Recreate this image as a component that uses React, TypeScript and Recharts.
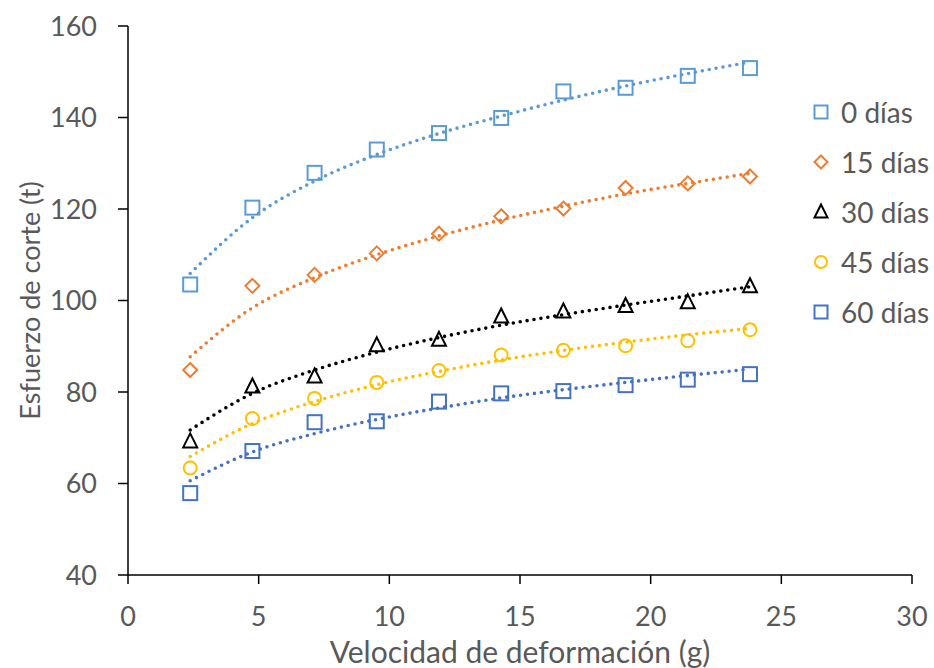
import { ScatterChart, Scatter, XAxis, YAxis } from 'recharts';

const velocidad = [2.38, 4.76, 7.14, 9.52, 11.9, 14.28, 16.66, 19.04, 21.42, 23.8];

const dias0 = [103.5, 120.3, 127.9, 133.0, 136.6, 139.9, 145.7, 146.5, 149.1, 150.8];
const dias15 = [84.8, 103.2, 105.6, 110.3, 114.6, 118.4, 120.1, 124.6, 125.6, 127.1];
const dias30 = [69.2, 81.2, 83.4, 90.2, 91.4, 96.5, 97.6, 98.8, 99.6, 103.1];
const dias45 = [63.4, 74.2, 78.6, 82.1, 84.7, 88.1, 89.1, 90.1, 91.2, 93.6];
const dias60 = [57.9, 67.1, 73.4, 73.6, 77.9, 79.7, 80.2, 81.5, 82.7, 83.9];

const tend0 = [105.9, 118.1, 126.1, 131.9, 136.5, 140.3, 143.8, 146.9, 149.6, 152.1];
const tend15 = [87.7, 98.4, 105.0, 110.0, 114.1, 117.6, 120.6, 123.3, 125.6, 127.8];
const tend30 = [71.7, 79.7, 84.8, 88.7, 91.9, 94.6, 96.9, 99.0, 101.0, 103.0];
const tend45 = [65.9, 73.1, 77.9, 81.6, 84.5, 87.0, 89.1, 90.9, 92.5, 93.9];
const tend60 = [60.6, 66.9, 70.9, 74.0, 76.5, 78.7, 80.5, 82.1, 83.6, 85.0];

const xTicks = [0, 5, 10, 15, 20, 25, 30];
const yTicks = [40, 60, 80, 100, 120, 140, 160];

const FONT = 'Lato, "Open Sans", sans-serif';
const GREY = '#595959';

type Kind = 'square' | 'diamond' | 'triangle' | 'circle';

const series: { name: string; values: number[]; trend: number[]; color: string; kind: Kind }[] = [
  { name: '0 días', values: dias0, trend: tend0, color: '#5B9BD5', kind: 'square' },
  { name: '15 días', values: dias15, trend: tend15, color: '#ED7D31', kind: 'diamond' },
  { name: '30 días', values: dias30, trend: tend30, color: '#000000', kind: 'triangle' },
  { name: '45 días', values: dias45, trend: tend45, color: '#FFC000', kind: 'circle' },
  { name: '60 días', values: dias60, trend: tend60, color: '#4472C4', kind: 'square' },
];

const toPoints = (ys: number[]) => velocidad.map((x, i) => ({ x, y: ys[i] }));

function Marker({ cx, cy, kind, color, s = 7 }: { cx: number; cy: number; kind: Kind; color: string; s?: number }) {
  const common = { fill: 'none', stroke: color, strokeWidth: 2 };
  if (kind === 'square') return <rect x={cx - s} y={cy - s} width={2 * s} height={2 * s} {...common} />;
  if (kind === 'diamond')
    return <polygon points={`${cx},${cy - s} ${cx + s},${cy} ${cx},${cy + s} ${cx - s},${cy}`} {...common} />;
  if (kind === 'triangle')
    return <polygon points={`${cx},${cy - s - 1} ${cx + s},${cy + s - 1} ${cx - s},${cy + s - 1}`} {...common} />;
  return <circle cx={cx} cy={cy} r={s - 0.5} {...common} />;
}

export default function App() {
  return (
    <div style={{ position: 'absolute', left: 0, top: 0, width: 934, height: 668, background: '#fff', fontFamily: FONT }}>
      <ScatterChart width={934} height={668} margin={{ top: 26, right: 22, left: 0, bottom: 0 }}>
        <XAxis
          type="number"
          dataKey="x"
          domain={[0, 30]}
          ticks={xTicks}
          height={93}
          tickSize={9}
          tickMargin={23}
          axisLine={{ stroke: '#000', strokeWidth: 1.5 }}
          tickLine={{ stroke: '#000', strokeWidth: 1.5 }}
          tick={{ fill: GREY, fontSize: 27, fontFamily: FONT }}
          label={{
            value: 'Velocidad de deformación (g)',
            position: 'insideBottom',
            offset: 5,
            fill: GREY,
            fontSize: 30,
            fontFamily: FONT,
          }}
        />
        <YAxis
          type="number"
          dataKey="y"
          domain={[40, 160]}
          ticks={yTicks}
          width={128}
          tickSize={10}
          tickMargin={21}
          axisLine={{ stroke: '#000', strokeWidth: 1.5 }}
          tickLine={{ stroke: '#000', strokeWidth: 1.5 }}
          tick={{ fill: GREY, fontSize: 27, fontFamily: FONT }}
          label={{
            value: 'Esfuerzo de corte (t)',
            angle: -90,
            position: 'insideLeft',
            offset: 30,
            fill: GREY,
            fontSize: 27,
            fontFamily: FONT,
            style: { textAnchor: 'middle' },
          }}
        />
        {series.map((s) => (
          <Scatter
            key={`t-${s.name}`}
            data={toPoints(s.trend)}
            fill={s.color}
            line={{ stroke: s.color, strokeWidth: 3.6, strokeDasharray: '0 7', strokeLinecap: 'round' }}
            lineJointType="monotoneX"
            shape={() => <g />}
            isAnimationActive={false}
          />
        ))}
        {series.map((s) => (
          <Scatter
            key={s.name}
            name={s.name}
            data={toPoints(s.values)}
            fill={s.color}
            shape={(p: any) => <Marker cx={p.cx} cy={p.cy} kind={s.kind} color={s.color} />}
            isAnimationActive={false}
          />
        ))}
      </ScatterChart>
      <div style={{ position: 'absolute', left: 808, top: 87 }}>
        {series.map((s) => (
          <div key={s.name} style={{ display: 'flex', alignItems: 'center', height: 50 }}>
            <svg width={26} height={20} style={{ marginRight: 7 }}>
              <Marker cx={13} cy={10} kind={s.kind} color={s.color} s={6.5} />
            </svg>
            <span style={{ fontSize: 28, color: GREY, fontFamily: FONT, whiteSpace: 'nowrap' }}>{s.name}</span>
          </div>
        ))}
      </div>
    </div>
  );
}
